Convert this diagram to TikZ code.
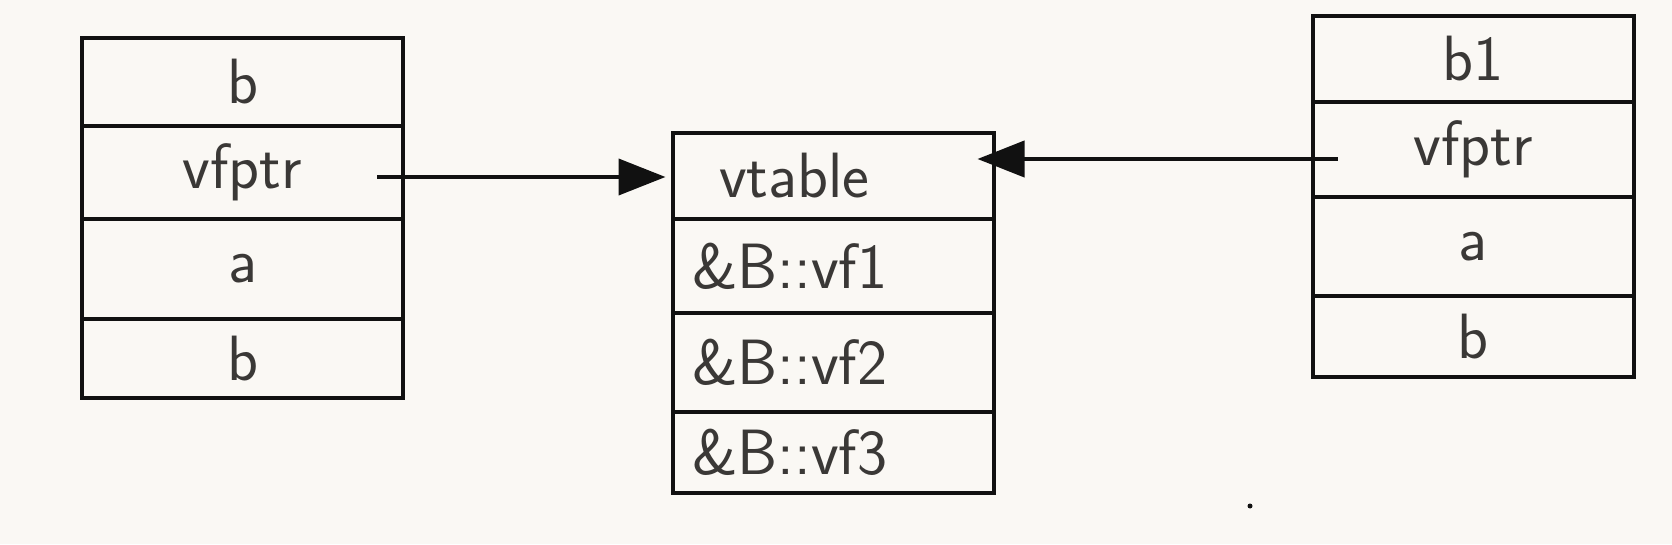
\documentclass[tikz,border=0pt]{standalone}
\usepackage{fontspec}
\usetikzlibrary{arrows.meta,positioning}
\definecolor{paper}{HTML}{FAF8F4}
\definecolor{ink}{HTML}{111111}
\definecolor{pen}{HTML}{3A3836}
\newcommand{\hand}{\fontsize{64}{70}\selectfont\sffamily}

\begin{document}
\begin{tikzpicture}[x=1pt, y=1pt,
  node distance=0pt,
  cell/.style={draw=ink, line width=4pt, minimum width=321pt, inner sep=0pt,
    outer sep=0pt, text=pen, font=\hand},
  entry/.style={cell, text width=282pt, inner xsep=19pt, align=left},
  arrow/.style={-{Triangle[length=47pt,width=36pt]}, line width=4pt, draw=ink}]
\useasboundingbox[fill=paper] (0,0) rectangle (1672,544);
% left object
\node[cell, minimum height=88pt] (lb) at (242.5,462) {b};
\node[cell, minimum height=93pt, below=of lb] (lvfptr) {vfptr};
\node[cell, minimum height=100pt, below=of lvfptr] (la) {a};
\node[cell, minimum height=79pt, below=of la] (lb2) {b};
% vtable
\node[entry, minimum height=86pt] (vtable) at (833,368) {\hspace*{27pt}vtable};
\node[entry, minimum height=94pt, below=of vtable] (vf1) {\&B::vf1};
\node[entry, minimum height=99pt, below=of vf1] (vf2) {\&B::vf2};
\node[entry, minimum height=81pt, below=of vf2] (vf3) {\&B::vf3};
% right object
\node[cell, minimum height=86pt] (rb1) at (1473,485) {b1};
\node[cell, minimum height=95pt, below=of rb1] (rvfptr) {vfptr};
\node[cell, minimum height=99pt, below=of rvfptr] (ra) {a};
\node[cell, minimum height=81pt, below=of ra] (rb) {b};
% pointers
\coordinate (lstart) at ([xshift=-26pt,yshift=-4.5pt]lvfptr.east);
\coordinate (rstart) at ([xshift=25pt,yshift=-9.5pt]rvfptr.west);
\draw[arrow, shorten >=7pt] (lstart) -- (lstart -| vtable.west);
\draw[arrow, shorten >=-16pt] (rstart) -- (rstart -| vtable.east);
\fill[ink] (1250,38) circle (2.5pt);
\end{tikzpicture}
\end{document}
